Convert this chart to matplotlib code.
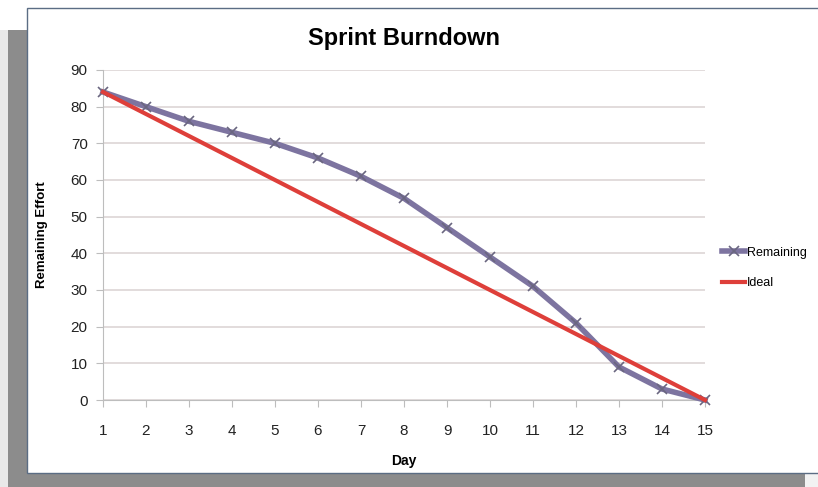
import matplotlib.pyplot as plt
from matplotlib.patches import Rectangle
from matplotlib import font_manager

days = [1, 2, 3, 4, 5, 6, 7, 8, 9, 10, 11, 12, 13, 14, 15]
remaining = [84, 80, 76, 73, 70, 66, 61, 55, 47, 39, 31, 21, 9, 3, 0]
ideal = [84, 78, 72, 66, 60, 54, 48, 42, 36, 30, 24, 18, 12, 6, 0]
yticks = [0, 10, 20, 30, 40, 50, 60, 70, 80, 90]

names = [f.name for f in font_manager.fontManager.ttflist]
if "Liberation Sans Narrow" in names:
    plt.rcParams['font.family'] = ['Liberation Sans Narrow', 'DejaVu Sans']
else:
    plt.rcParams['font.family'] = ['Liberation Sans', 'DejaVu Sans']

W, H = 818, 487
fig = plt.figure(figsize=(W / 100, H / 100), dpi=100)
fig.patch.set_facecolor('#e9e9e9')

def px(x0, y0, x1, y1):
    # pixel box (top-left origin) -> figure fraction rect
    return (x0 / W, 1 - y1 / H), (x1 - x0) / W, (y1 - y0) / H

# shadow frame behind the chart
for (x0, y0, x1, y1, c) in [(0, 0, 818, 30, '#ffffff'),
                            (8, 30, 30, 487, '#8c8c8c'),
                            (8, 470, 805, 487, '#8c8c8c'),
                            (805, 470, 818, 487, '#f2f2f2')]:
    xy, w, h = px(x0, y0, x1, y1)
    fig.patches.append(Rectangle(xy, w, h, transform=fig.transFigure,
                                 facecolor=c, edgecolor='none', zorder=0))
xy, w, h = px(27, 8, 830, 473)
fig.patches.append(Rectangle(xy, w, h, transform=fig.transFigure,
                             facecolor='white', edgecolor='#5b6d84',
                             linewidth=1.0, zorder=1))

ax = fig.add_axes([103 / W, 1 - 400 / H, (705 - 103) / W, (400 - 70) / H])
ax.set_facecolor('none')
ax.set_zorder(2)

ax.plot(days, remaining, color='#7d74a0', linewidth=4.0, marker='x',
        markersize=7, markeredgewidth=1.2, markeredgecolor='#6a6680',
        label='Remaining', clip_on=False, zorder=3, solid_joinstyle='round')
ax.plot(days, ideal, color='#de3f3a', linewidth=3.0, label='Ideal',
        clip_on=False, zorder=4)

ax.set_xlim(1, 15)
ax.set_ylim(0, 90)
ax.set_xticks(days)
ax.set_yticks(yticks)
ax.grid(axis='y', color='#ddd5d5', linewidth=1.2)
ax.set_axisbelow(True)
for s in ['top', 'right']:
    ax.spines[s].set_visible(False)
ax.spines['left'].set_color('#bdbdbd')
ax.spines['bottom'].set_color('#bdbdbd')
ax.tick_params(axis='x', length=5, color='#bdbdbd', pad=12, labelsize=11,
               labelcolor='#222222')
ax.tick_params(axis='y', length=5, color='#bdbdbd', pad=6, labelsize=11,
               labelcolor='#222222')

ax.set_xlabel('Day', fontsize=10, fontweight='bold', labelpad=12)
ax.set_ylabel('Remaining Effort', fontsize=9.5, fontweight='bold', labelpad=16)
fig.text((103 + 705) / 2 / W, 1 - 38 / H, 'Sprint Burndown', ha='center',
         va='center', fontsize=17, fontweight='bold', zorder=5)

ax.legend(loc='center left', bbox_to_anchor=(1.01, 0.4), frameon=False,
          fontsize=9, handlelength=1.8, handletextpad=0.15, labelspacing=1.5)

fig.savefig('out.png', dpi=100)
